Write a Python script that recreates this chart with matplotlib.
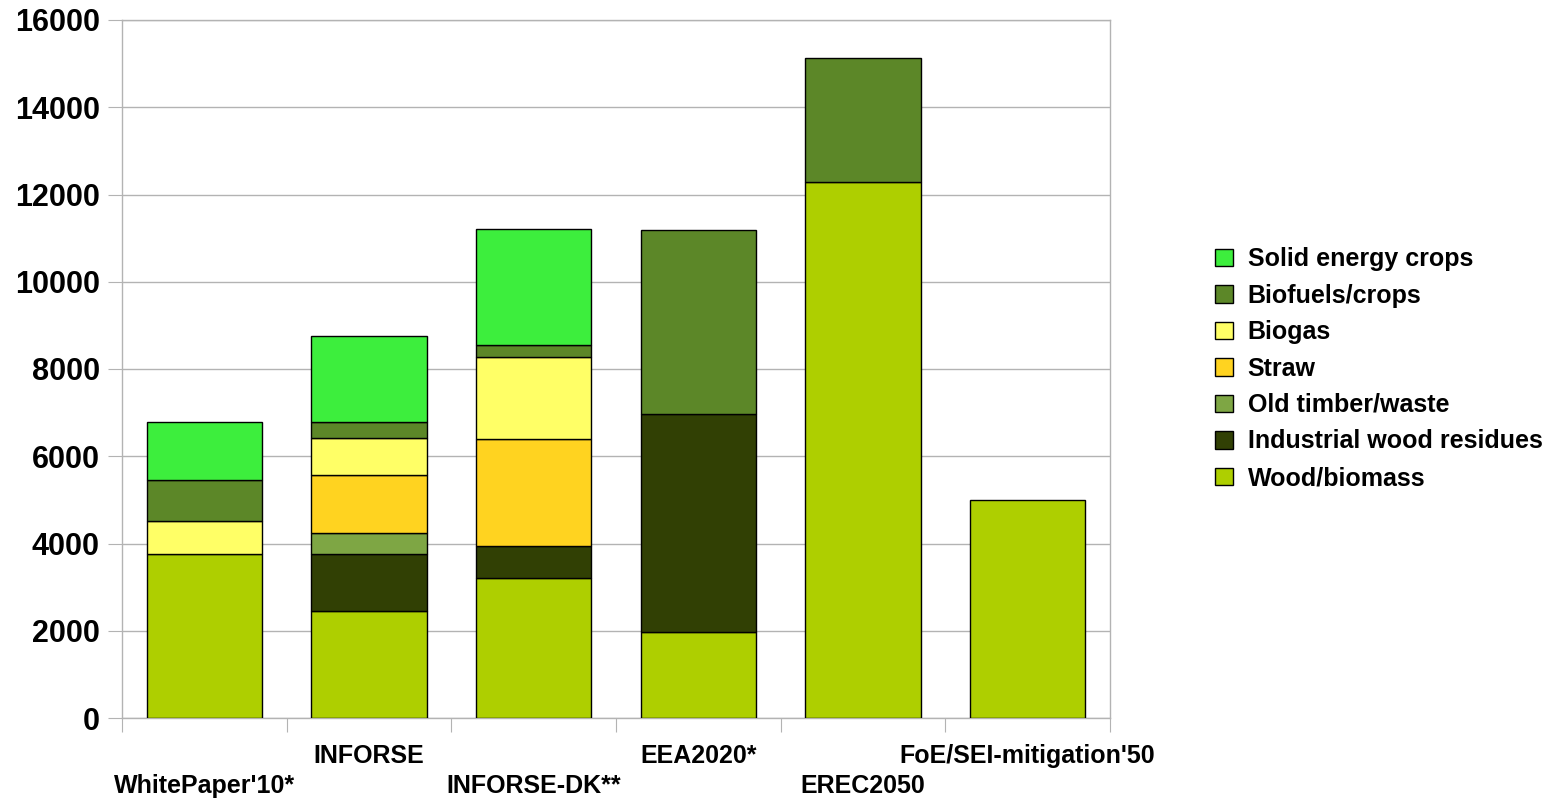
import matplotlib.pyplot as plt
import numpy as np

# Scenario categories and biomass supply by source (stacked bottom -> top)
scenarios = ["WhitePaper'10*", "INFORSE", "INFORSE-DK**", "EEA2020*", "EREC2050", "FoE/SEI-mitigation'50"]
wood_biomass = [3770, 2450, 3200, 1980, 12280, 5000]
industrial_residues = [0, 1310, 750, 4990, 0, 0]
old_timber = [0, 480, 0, 0, 0, 0]
straw = [0, 1320, 2450, 0, 0, 0]
biogas = [750, 850, 1880, 0, 0, 0]
biofuels = [940, 370, 270, 4220, 2850, 0]
solid_crops = [1320, 1980, 2650, 0, 0, 0]

series = [
    ("Wood/biomass", wood_biomass, "#aecf00"),
    ("Industrial wood residues", industrial_residues, "#314004"),
    ("Old timber/waste", old_timber, "#7ea644"),
    ("Straw", straw, "#ffd320"),
    ("Biogas", biogas, "#ffff66"),
    ("Biofuels/crops", biofuels, "#5c8728"),
    ("Solid energy crops", solid_crops, "#3dee3d"),
]

plt.rcParams['font.family'] = ['Liberation Sans', 'DejaVu Sans']
plt.rcParams['font.weight'] = 'bold'

fig = plt.figure(figsize=(15.64, 7.98), dpi=100)
ax = fig.add_axes([122 / 1564, 80 / 798, 988 / 1564, 698 / 798])

grid_c = "#b3b3b3"
x = np.arange(len(scenarios))
bottom = np.zeros(len(scenarios))
handles = []
for name, vals, col in series:
    vals = np.array(vals, dtype=float)
    idx = vals > 0
    h = ax.bar(x[idx], vals[idx], width=0.7, bottom=bottom[idx], color=col,
               edgecolor="black", linewidth=1.0, label=name, zorder=3)
    handles.append(h)
    bottom += vals

ax.set_xlim(-0.5, len(scenarios) - 0.5)
ax.set_ylim(0, 16000)
ax.set_yticks(np.arange(0, 16001, 2000))
ax.yaxis.grid(True, color=grid_c, linewidth=1, zorder=0)
ax.set_axisbelow(True)
for s in ax.spines.values():
    s.set_color(grid_c)
    s.set_linewidth(1)
ax.tick_params(axis='y', length=10, color=grid_c, labelsize=22, pad=6)

# category separators as ticks, labels drawn staggered below
ax.set_xticks(np.arange(-0.5, len(scenarios), 1.0))
ax.set_xticklabels([])
ax.tick_params(axis='x', length=10, color=grid_c)
for i, lab in enumerate(scenarios):
    offset = -26 / 698 if i % 2 else -56 / 698
    ax.text(i, offset, lab, transform=ax.get_xaxis_transform(), ha='center', va='top',
            fontsize=18, fontweight='bold')

fig.legend(handles[::-1], [s[0] for s in series][::-1], loc='upper left',
           bbox_to_anchor=(1205 / 1564, 1 - 237 / 798), frameon=False,
           fontsize=18, handlelength=0.7, handleheight=0.7, handletextpad=0.6,
           labelspacing=0.5, borderaxespad=0)

fig.savefig("out.png", dpi=100)
